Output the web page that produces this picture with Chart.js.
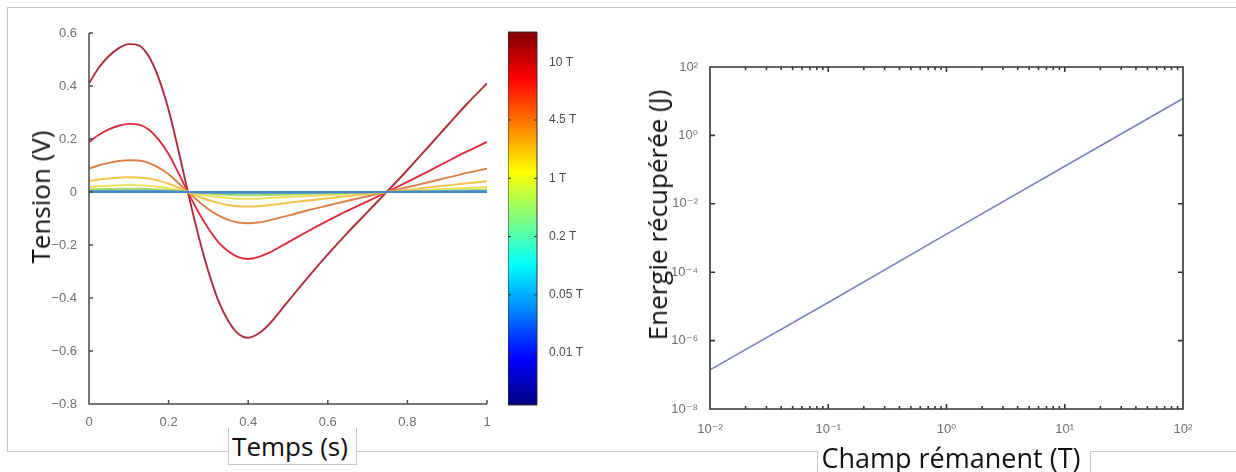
<!DOCTYPE html>
<html>
<head>
<meta charset="utf-8">
<script src="https://cdn.jsdelivr.net/npm/chart.js@4.4.1/dist/chart.umd.min.js"></script>
<style>
  body { margin: 0; background: #fff; width: 1236px; height: 472px; overflow: hidden; position: relative; font-family: "Open Sans", sans-serif; }
  .frame { position: absolute; left: 7px; top: 7px; width: 1260px; height: 443px; border: 1px solid #c6c6c6; }
  canvas { position: absolute; }
  .tbox { position: absolute; background: #fff; border: 1px solid #c6c6c6; border-top: none; }
  .lbl { position: absolute; font-size: 26px; line-height: 1; color: #111; white-space: nowrap; }
</style>
</head>
<body>
<div class="frame"></div>
<canvas id="tension" width="520" height="440" style="left:0;top:0"></canvas>
<canvas id="cbar" width="90" height="393" style="left:508px;top:22px"></canvas>
<canvas id="energie" width="636" height="440" style="left:600px;top:0"></canvas>
<div class="tbox" style="left:228px;top:428px;width:127px;height:36px"></div>
<div class="tbox" style="left:817px;top:451px;width:272px;height:30px"></div>
<div class="lbl" style="left:40px;top:197px;transform:translate(-50%,-50%) rotate(-90deg)">Tension (V)</div>
<div class="lbl" style="left:290px;top:446px;transform:translate(-50%,-50%)">Temps (s)</div>
<div class="lbl" style="left:657px;top:215px;transform:translate(-50%,-50%) rotate(-90deg)">Energie récupérée (J)</div>
<div class="lbl" style="left:951px;top:457px;font-size:27px;transform:translate(-50%,-50%)">Champ rémanent (T)</div>
<script>
// --- left plot: voltage vs time, one curve per remanent field
const timeS = [0, 0.025, 0.05, 0.075, 0.1, 0.125, 0.15, 0.175, 0.2, 0.225, 0.25, 0.275, 0.3, 0.325, 0.35, 0.375, 0.4, 0.425, 0.45, 0.5, 0.55, 0.6, 0.65, 0.7, 0.75, 0.8, 0.85, 0.9, 0.95, 1];
const v10    = [0.41, 0.47, 0.513, 0.543, 0.558, 0.553, 0.512, 0.43, 0.31, 0.155, -0.01, -0.165, -0.3, -0.41, -0.487, -0.535, -0.55, -0.535, -0.503, -0.413, -0.322, -0.235, -0.153, -0.075, 0.003, 0.083, 0.166, 0.25, 0.333, 0.41];
const v4_6   = [0.189, 0.216, 0.236, 0.25, 0.257, 0.254, 0.236, 0.198, 0.143, 0.071, -0.005, -0.076, -0.138, -0.189, -0.224, -0.246, -0.253, -0.246, -0.231, -0.19, -0.148, -0.108, -0.07, -0.035, 0.001, 0.038, 0.076, 0.115, 0.153, 0.189];
const v2_2   = [0.088, 0.101, 0.11, 0.117, 0.12, 0.119, 0.11, 0.092, 0.067, 0.033, -0.002, -0.035, -0.065, -0.088, -0.105, -0.115, -0.118, -0.115, -0.108, -0.089, -0.069, -0.051, -0.033, -0.016, 0.001, 0.018, 0.036, 0.054, 0.072, 0.088];
const v1     = [0.041, 0.047, 0.051, 0.054, 0.056, 0.055, 0.051, 0.043, 0.031, 0.016, -0.001, -0.017, -0.03, -0.041, -0.049, -0.054, -0.055, -0.054, -0.05, -0.041, -0.032, -0.024, -0.015, -0.008, 0, 0.008, 0.017, 0.025, 0.033, 0.041];
const v0_46  = [0.019, 0.022, 0.024, 0.025, 0.026, 0.025, 0.024, 0.02, 0.014, 0.007, 0, -0.008, -0.014, -0.019, -0.022, -0.025, -0.025, -0.025, -0.023, -0.019, -0.015, -0.011, -0.007, -0.003, 0, 0.004, 0.008, 0.012, 0.015, 0.019];
const v0_22  = [0.009, 0.01, 0.011, 0.012, 0.012, 0.012, 0.011, 0.009, 0.007, 0.003, 0, -0.004, -0.006, -0.009, -0.01, -0.012, -0.012, -0.012, -0.011, -0.009, -0.007, -0.005, -0.003, -0.002, 0, 0.002, 0.004, 0.005, 0.007, 0.009];
const v0_1   = [0.004, 0.005, 0.005, 0.005, 0.006, 0.006, 0.005, 0.004, 0.003, 0.002, 0, -0.002, -0.003, -0.004, -0.005, -0.005, -0.006, -0.005, -0.005, -0.004, -0.003, -0.002, -0.002, -0.001, 0, 0.001, 0.002, 0.003, 0.003, 0.004];
const v0_046 = [0.002, 0.002, 0.002, 0.002, 0.003, 0.003, 0.002, 0.002, 0.001, 0.001, 0, -0.001, -0.001, -0.002, -0.002, -0.002, -0.003, -0.002, -0.002, -0.002, -0.001, -0.001, -0.001, 0, 0, 0, 0.001, 0.001, 0.002, 0.002];
const v0_022 = [0.001, 0.001, 0.001, 0.001, 0.001, 0.001, 0.001, 0.001, 0.001, 0, 0, 0, -0.001, -0.001, -0.001, -0.001, -0.001, -0.001, -0.001, -0.001, -0.001, 0, 0, 0, 0, 0, 0, 0.001, 0.001, 0.001];
const v0_01  = [0.0004, 0.0005, 0.0005, 0.0005, 0.0006, 0.0006, 0.0005, 0.0004, 0.0003, 0.0002, 0, -0.0002, -0.0003, -0.0004, -0.0005, -0.0005, -0.0006, -0.0005, -0.0005, -0.0004, -0.0003, -0.0002, -0.0002, -0.0001, 0, 0.0001, 0.0002, 0.0003, 0.0003, 0.0004];

const xTicksTemps = [0, 0.2, 0.4, 0.6, 0.8, 1];
const xLabelsTemps = ["0", "0.2", "0.4", "0.6", "0.8", "1"];
const yTicksTension = [-0.8, -0.6, -0.4, -0.2, 0, 0.2, 0.4, 0.6];
const yLabelsTension = ["\u22120.8", "\u22120.6", "\u22120.4", "\u22120.2", "0", "0.2", "0.4", "0.6"];

// --- colorbar
const cbRange = [0, 64];
const cbTicks = [8.9, 18.9, 28.9, 38.9, 48.9, 58.8];
const cbLabels = ["0.01 T", "0.05 T", "0.2 T", "1 T", "4.5 T", "10 T"];

// --- right plot: recovered energy vs remanent field (log-log)
const champT = [0.01, 0.1, 1, 10, 100];
const energieJ = [1.4e-7, 1.3e-5, 1.3e-3, 0.125, 12];
const xMajorChamp = [0.01, 0.1, 1, 10, 100];
const xLabelsChamp = ["10\u207B\u00B2", "10\u207B\u00B9", "10\u2070", "10\u00B9", "10\u00B2"];
const minorMult = [2, 3, 4, 5, 6, 7, 8, 9];
const yTicksEnergie = [1e-8, 1e-6, 1e-4, 1e-2, 1, 100];
const yLabelsEnergie = ["10\u207B\u2078", "10\u207B\u2076", "10\u207B\u2074", "10\u207B\u00B2", "10\u2070", "10\u00B2"];

const jetStops = [[0, "#00007f"], [0.125, "#0000ff"], [0.375, "#00ffff"], [0.625, "#ffff00"], [0.875, "#ff0000"], [1, "#7f0000"]];

// axis lines + inward tick marks, matlab style
const matlabAxes = {
  id: "matlabAxes",
  afterDatasetsDraw(chart, args, o) {
    const { ctx, chartArea: a } = chart;
    ctx.save();
    ctx.strokeStyle = o.color;
    ctx.lineWidth = o.width;
    ctx.beginPath();
    if (o.box) {
      ctx.rect(a.left, a.top, a.right - a.left, a.bottom - a.top);
    } else {
      ctx.moveTo(a.left, a.top);
      ctx.lineTo(a.left, a.bottom);
      ctx.lineTo(a.right, a.bottom);
    }
    const len = t => (t.major === false ? o.minor : o.major);
    if (o.xTicks) {
      const sx = chart.scales.x;
      sx.ticks.forEach(t => {
        const px = sx.getPixelForValue(t.value);
        ctx.moveTo(px, a.bottom); ctx.lineTo(px, a.bottom - len(t));
        if (o.box) { ctx.moveTo(px, a.top); ctx.lineTo(px, a.top + len(t)); }
      });
    }
    const sy = chart.scales.y;
    sy.ticks.forEach(t => {
      const py = sy.getPixelForValue(t.value);
      ctx.moveTo(a.left, py); ctx.lineTo(a.left + len(t), py);
      if (o.box) { ctx.moveTo(a.right, py); ctx.lineTo(a.right - len(t), py); }
    });
    ctx.stroke();
    ctx.restore();
  }
};

const fixSize = (prop, v) => s => {
  s[prop] = v;
  s.paddingTop = s.paddingBottom = s.paddingLeft = s.paddingRight = 0;
};

const tickFont = { family: "Liberation Sans, DejaVu Sans, sans-serif", size: 13 };

// small fields first so the blue zero lines sit on top, as in the figure
const curves = [
  { data: v0_01,  color: "#4a84cc", w: 2.2 },
  { data: v0_022, color: "#4b9ad6", w: 2 },
  { data: v0_046, color: "#4cbccc", w: 2 },
  { data: v0_1,   color: "#6cc890", w: 2 },
  { data: v0_22,  color: "#aad862", w: 2 },
  { data: v0_46,  color: "#ece05a", w: 2 },
  { data: v1,     color: "#f6c24c", w: 2 },
  { data: v2_2,   color: "#da8048", w: 1.9 },
  { data: v4_6,   color: "#de2a40", w: 1.9 },
  { data: v10,    color: "#a82e3c", w: 1.9 }
];

new Chart(document.getElementById("tension"), {
  type: "line",
  data: {
    datasets: curves.map(c => ({
      data: timeS.map((t, i) => ({ x: t, y: c.data[i] })),
      borderColor: c.color,
      borderWidth: c.w,
      pointRadius: 0,
      fill: false,
      cubicInterpolationMode: "monotone"
    }))
  },
  options: {
    responsive: false,
    animation: false,
    layout: { padding: { left: 45, top: 33, right: 33, bottom: 14 } },
    plugins: {
      legend: { display: false },
      tooltip: { enabled: false },
      matlabAxes: { box: false, xTicks: true, color: "#4a4a4a", width: 1.5, major: 4, minor: 2 }
    },
    scales: {
      x: {
        type: "linear", min: 0, max: 1,
        grid: { display: false }, border: { display: false },
        afterBuildTicks: s => { s.ticks = xTicksTemps.map(v => ({ value: v })); },
        afterFit: fixSize("height", 22),
        ticks: { padding: 3, color: "#6e6e6e", font: tickFont, autoSkip: false, maxRotation: 0,
                 callback: (v, i) => xLabelsTemps[i] }
      },
      y: {
        min: -0.8, max: 0.6,
        grid: { display: false }, border: { display: false },
        afterBuildTicks: s => { s.ticks = yTicksTension.map(v => ({ value: v })); },
        afterFit: fixSize("width", 44),
        ticks: { padding: 4, color: "#6e6e6e", font: tickFont, autoSkip: false,
                 callback: (v, i) => yLabelsTension[i] }
      }
    }
  },
  plugins: [matlabAxes]
});

new Chart(document.getElementById("cbar"), {
  type: "bar",
  data: {
    labels: [""],
    datasets: [{
      data: [cbRange],
      borderWidth: 0,
      barPercentage: 1,
      categoryPercentage: 1,
      backgroundColor: c => {
        const a = c.chart.chartArea;
        if (!a) return null;
        const g = c.chart.ctx.createLinearGradient(0, a.bottom, 0, a.top);
        jetStops.forEach(([p, col]) => g.addColorStop(p, col));
        return g;
      }
    }]
  },
  options: {
    responsive: false,
    animation: false,
    layout: { padding: { left: 0, top: 10, right: 0, bottom: 10 } },
    plugins: {
      legend: { display: false },
      tooltip: { enabled: false },
      matlabAxes: { box: true, xTicks: false, color: "#333", width: 1, major: 3, minor: 3 }
    },
    scales: {
      x: { display: false },
      y: {
        position: "right", min: cbRange[0], max: cbRange[1],
        grid: { display: false }, border: { display: false },
        afterBuildTicks: s => { s.ticks = cbTicks.map(v => ({ value: v })); },
        afterFit: fixSize("width", 61),
        ticks: { padding: 4, color: "#4a4a4a", font: { family: tickFont.family, size: 12 }, autoSkip: false,
                 callback: (v, i) => cbLabels[i] }
      }
    }
  },
  plugins: [matlabAxes]
});

const champTicks = [];
xMajorChamp.forEach((d, i) => {
  champTicks.push({ value: d, major: true });
  if (i < xMajorChamp.length - 1) minorMult.forEach(m => champTicks.push({ value: d * m, major: false }));
});

new Chart(document.getElementById("energie"), {
  type: "line",
  data: {
    datasets: [{
      data: champT.map((b, i) => ({ x: b, y: energieJ[i] })),
      borderColor: "#7c83b6",
      borderWidth: 1.6,
      pointRadius: 0,
      fill: false
    }]
  },
  options: {
    responsive: false,
    animation: false,
    layout: { padding: { left: 60, top: 67, right: 53, bottom: 7 } },
    plugins: {
      legend: { display: false },
      tooltip: { enabled: false },
      matlabAxes: { box: true, xTicks: true, color: "#333", width: 1.6, major: 5, minor: 3 }
    },
    scales: {
      x: {
        type: "logarithmic", min: 0.01, max: 100,
        grid: { display: false }, border: { display: false },
        afterBuildTicks: s => { s.ticks = champTicks.map(t => ({ ...t })); },
        afterFit: fixSize("height", 24),
        ticks: { padding: 5, color: "#6e6e6e", font: tickFont, autoSkip: false, maxRotation: 0, minRotation: 0,
                 callback: v => { const k = xMajorChamp.indexOf(v); return k < 0 ? "" : xLabelsChamp[k]; } }
      },
      y: {
        type: "logarithmic", min: 1e-8, max: 100,
        grid: { display: false }, border: { display: false },
        afterBuildTicks: s => { s.ticks = yTicksEnergie.map(v => ({ value: v, major: true })); },
        afterFit: fixSize("width", 50),
        ticks: { padding: 4, color: "#6e6e6e", font: tickFont, autoSkip: false,
                 callback: (v, i) => yLabelsEnergie[i] }
      }
    }
  },
  plugins: [matlabAxes]
});
</script>
</body>
</html>
